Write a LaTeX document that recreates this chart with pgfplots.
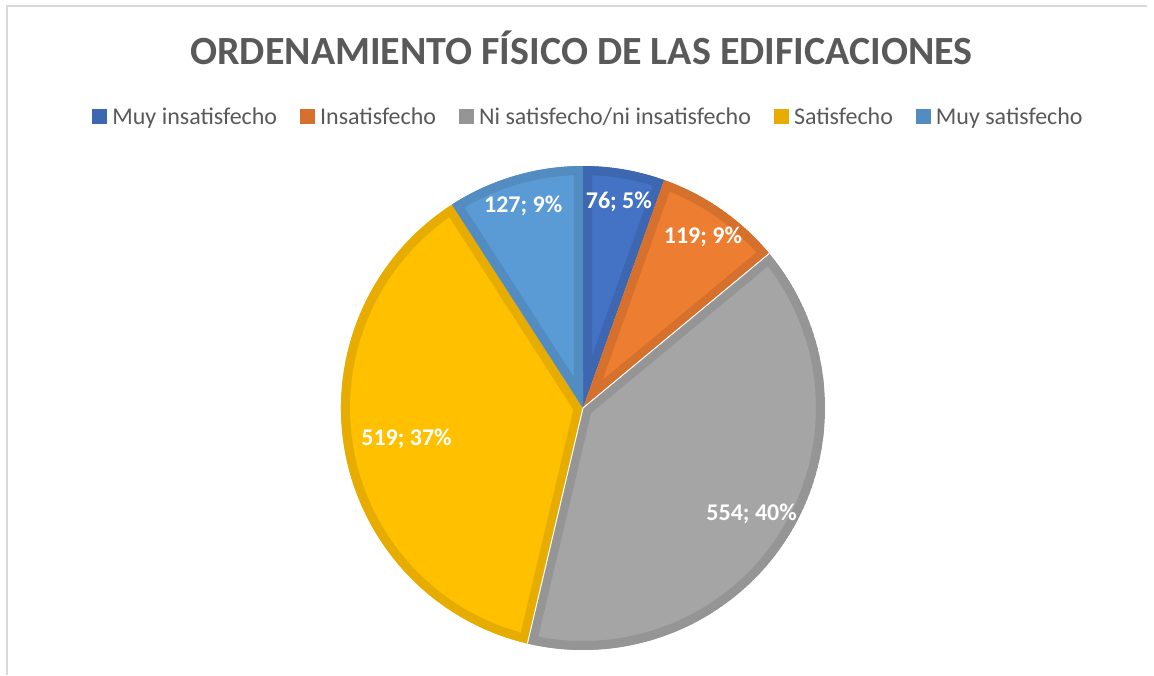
\documentclass[border=0pt]{standalone}
\usepackage{pgfplots}
\pgfplotsset{compat=1.18}
\usepackage{pgfplotstable}
\usepackage{fontspec}
\setmainfont{Carlito}
\definecolor{cA}{HTML}{4472C4}\definecolor{bA}{HTML}{3D67B1}
\definecolor{cB}{HTML}{ED7D31}\definecolor{bB}{HTML}{D5712C}
\definecolor{cC}{HTML}{A5A5A5}\definecolor{bC}{HTML}{959595}
\definecolor{cD}{HTML}{FFC000}\definecolor{bD}{HTML}{E6AD00}
\definecolor{cE}{HTML}{5B9BD5}\definecolor{bE}{HTML}{528CC0}
\definecolor{titlegray}{HTML}{595959}
\definecolor{framegray}{HTML}{D9D9D9}

\pgfplotstableread{
value dist
76 0.87
119 0.865
554 0.82
519 0.74
127 0.875
}\piedata

\pgfplotstablegetelem{0}{value}\of\piedata\edef\vA{\pgfplotsretval}
\pgfplotstablegetelem{1}{value}\of\piedata\edef\vB{\pgfplotsretval}
\pgfplotstablegetelem{2}{value}\of\piedata\edef\vC{\pgfplotsretval}
\pgfplotstablegetelem{3}{value}\of\piedata\edef\vD{\pgfplotsretval}
\pgfplotstablegetelem{4}{value}\of\piedata\edef\vE{\pgfplotsretval}
\pgfplotstablegetelem{0}{dist}\of\piedata\edef\dA{\pgfplotsretval}
\pgfplotstablegetelem{1}{dist}\of\piedata\edef\dB{\pgfplotsretval}
\pgfplotstablegetelem{2}{dist}\of\piedata\edef\dC{\pgfplotsretval}
\pgfplotstablegetelem{3}{dist}\of\piedata\edef\dD{\pgfplotsretval}
\pgfplotstablegetelem{4}{dist}\of\piedata\edef\dE{\pgfplotsretval}

\pgfmathsetmacro\tot{\vA+\vB+\vC+\vD+\vE}
\pgfmathsetmacro\aA{90}
\pgfmathsetmacro\aB{\aA-360*(\vA/\tot)}
\pgfmathsetmacro\aC{\aB-360*(\vB/\tot)}
\pgfmathsetmacro\aD{\aC-360*(\vC/\tot)}
\pgfmathsetmacro\aE{\aD-360*(\vD/\tot)}
\pgfmathsetmacro\aF{\aE-360*(\vE/\tot)}
\pgfmathsetmacro\mA{(\aA+\aB)/2}
\pgfmathsetmacro\mB{(\aB+\aC)/2}
\pgfmathsetmacro\mC{(\aC+\aD)/2}
\pgfmathsetmacro\mD{(\aD+\aE)/2}
\pgfmathsetmacro\mE{(\aE+\aF)/2}
\pgfmathsetmacro\rA{\dA*242}
\pgfmathsetmacro\rB{\dB*242}
\pgfmathsetmacro\rC{\dC*242}
\pgfmathsetmacro\rD{\dD*242}
\pgfmathsetmacro\rE{\dE*242}
\pgfmathtruncatemacro\pA{round(100*(\vA/\tot))}
\pgfmathtruncatemacro\pB{round(100*(\vB/\tot))}
\pgfmathtruncatemacro\pC{round(100*(\vC/\tot))}
\pgfmathtruncatemacro\pD{round(100*(\vD/\tot))}
\pgfmathtruncatemacro\pE{round(100*(\vE/\tot))}

\newcommand\pieslice[4]{%
  \begin{scope}
    \clip (axis cs:583,267) -- ++(#1:242pt) arc[start angle=#1,end angle=#2,radius=242pt] -- cycle;
    \filldraw[fill=#3,draw=#4,line width=18pt] (axis cs:583,267) -- ++(#1:242pt) arc[start angle=#1,end angle=#2,radius=242pt] -- cycle;
  \end{scope}}

\begin{document}
\begin{tikzpicture}
\begin{axis}[
  x=1pt, y=1pt,
  xmin=0, xmax=1154, ymin=0, ymax=675,
  hide axis, clip=false,
  legend columns=-1,
  legend cell align=left,
  legend image code/.code={\path[#1,draw=none] (0pt,-7.5pt) rectangle (15pt,7.5pt);},
  legend style={
    at={(axis description cs:0.5091,0.8270)}, anchor=center,
    draw=none, fill=none, inner sep=0pt,
    font=\fontsize{24}{29}\selectfont, text=titlegray,
    nodes={inner sep=0pt},
    /tikz/every odd column/.append style={column sep=5pt},
    /tikz/every even column/.append style={column sep=23pt},
  },
]
\path (axis cs:0,0) rectangle (axis cs:1154,675);
\draw[framegray, line width=1.5pt] (axis cs:7,0) -- (axis cs:7,669) -- (axis cs:1147,669);

\addlegendimage{fill=bA}\addlegendentry{Muy insatisfecho}
\addlegendimage{fill=bB}\addlegendentry{Insatisfecho}
\addlegendimage{fill=bC}\addlegendentry{Ni satisfecho/ni insatisfecho}
\addlegendimage{fill=bD}\addlegendentry{Satisfecho}
\addlegendimage{fill=bE}\addlegendentry{Muy satisfecho}

\pgfplotsextra{%
  \pieslice{\aA}{\aB}{cA}{bA}
  \pieslice{\aB}{\aC}{cB}{bB}
  \pieslice{\aC}{\aD}{cC}{bC}
  \pieslice{\aD}{\aE}{cD}{bD}
  \pieslice{\aE}{\aF}{cE}{bE}
  \draw[white, line width=1pt] (axis cs:583,267) -- ++(\aC:242pt);
  \draw[white, line width=1pt] (axis cs:583,267) -- ++(\aD:242pt);
  \path[font=\bfseries\fontsize{24}{29}\selectfont, text=white]
    (axis cs:583,267) ++(\mA:\rA pt) node[text height=15pt,text depth=0pt]{\vA; \pA\%}
    (axis cs:583,267) ++(\mB:\rB pt) node[text height=15pt,text depth=0pt]{\vB; \pB\%}
    (axis cs:583,267) ++(\mC:\rC pt) node[text height=15pt,text depth=0pt]{\vC; \pC\%}
    (axis cs:583,267) ++(\mD:\rD pt) node[text height=15pt,text depth=0pt]{\vD; \pD\%}
    (axis cs:583,267) ++(\mE:\rE pt) node[text height=15pt,text depth=0pt]{\vE; \pE\%};
}

\node[anchor=base, font=\bfseries\fontsize{40}{48}\selectfont, text=titlegray]
  at (axis cs:581.5,610) {ORDENAMIENTO FÍSICO DE LAS EDIFICACIONES};
\end{axis}
\end{tikzpicture}
\end{document}
